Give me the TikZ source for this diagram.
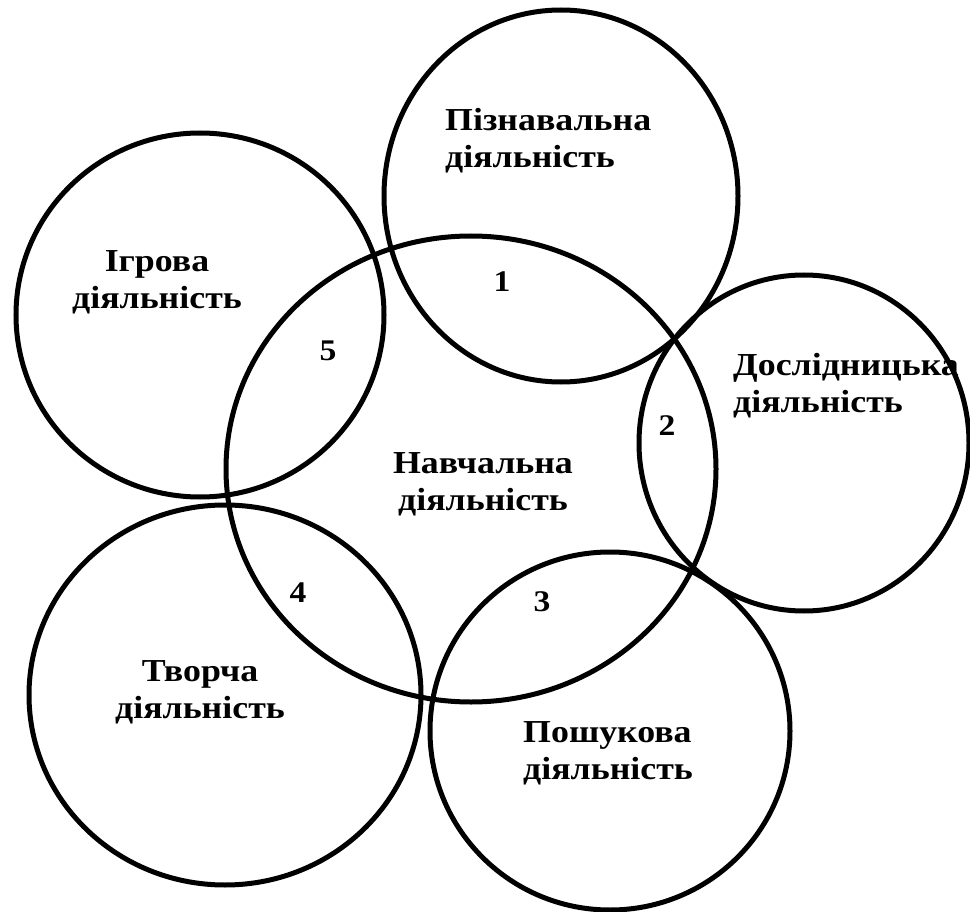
\documentclass[tikz,border=0pt]{standalone}
\usepackage{fontspec}
\setmainfont{Liberation Serif}
\newfontfamily\lblfont[FakeStretch=1.12]{Liberation Serif}
\begin{document}
\begin{tikzpicture}[x=1pt,y=-1pt,
  ring/.style={draw=black,line width=5pt},
  lbl/.style={font=\lblfont\fontsize{32}{37}\selectfont\bfseries,inner sep=0pt},
  num/.style={font=\lblfont\fontsize{30}{34}\selectfont\bfseries,inner sep=0pt}]
\useasboundingbox (0,0) rectangle (970,912);
% circles
\draw[ring] (561,196) ellipse [x radius=177, y radius=186];
\draw[ring] (200,315) ellipse [x radius=184, y radius=182];
\draw[ring] (471,469) ellipse [x radius=245, y radius=233];
\draw[ring] (804,443) ellipse [x radius=165, y radius=168];
\draw[ring] (225,695) ellipse [x radius=196, y radius=190];
\draw[ring] (610,731) ellipse [x radius=180, y radius=179];
% labels
\node[lbl,anchor=west,align=left] (pizn) at (445,141) {Пізнавальна\\діяльність};
\node[lbl,align=center] (igr) at (157,282) {Ігрова\\діяльність};
\node[lbl,anchor=west,align=left] (dosl) at (733,386) {Дослідницька\\діяльність};
\node[lbl,align=center] (navch) at (483,484) {Навчальна\\діяльність};
\node[lbl,align=center] (tvor) at (200,692) {Творча\\діяльність};
\node[lbl,anchor=west,align=left] (posh) at (523,753) {Пошукова\\діяльність};
% numbers
\node[num] (n1) at (502,282) {1};
\node[num] (n2) at (667,426) {2};
\node[num] (n3) at (542,602) {3};
\node[num] (n4) at (298,593) {4};
\node[num] (n5) at (328,351) {5};
\end{tikzpicture}
\end{document}
